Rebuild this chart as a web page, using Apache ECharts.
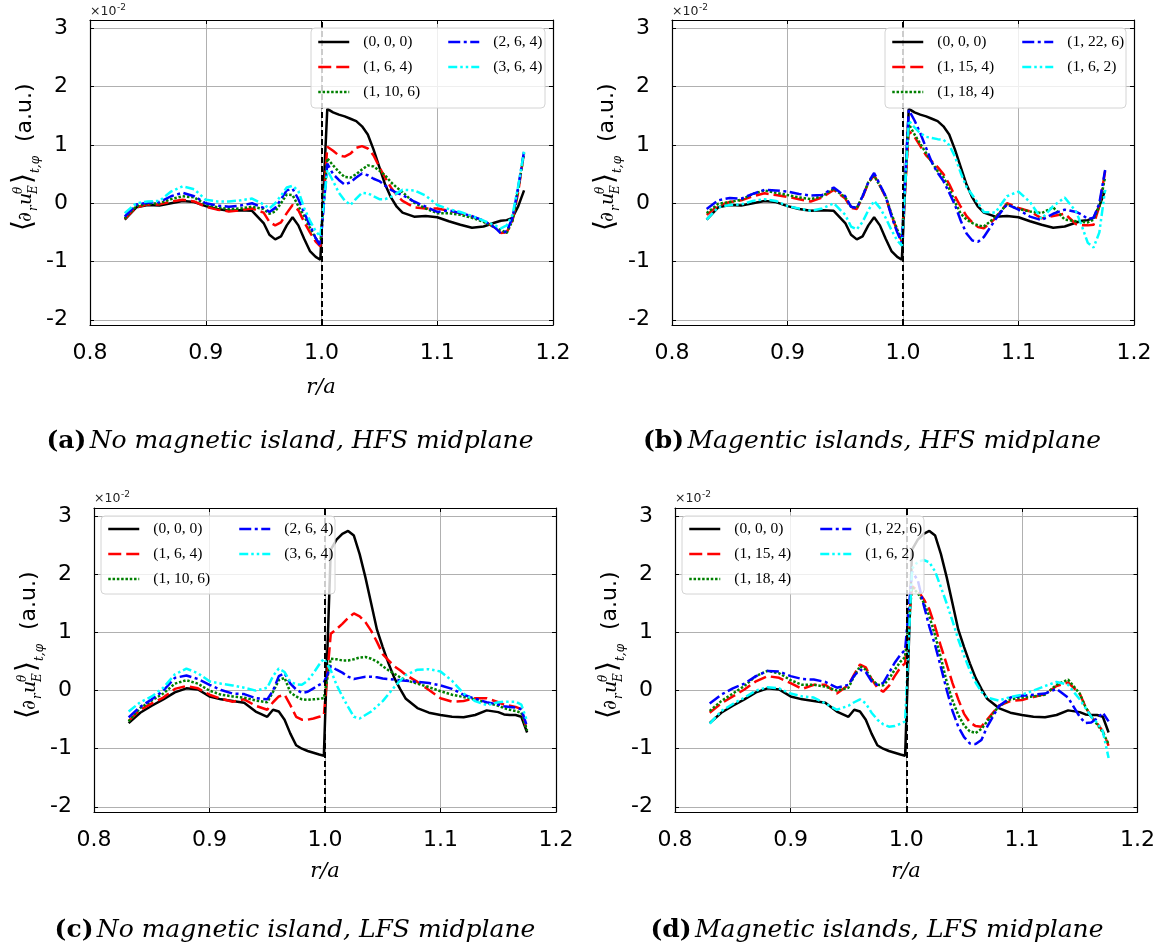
<!DOCTYPE html>
<html>
<head>
<meta charset="utf-8">
<script src="https://cdn.jsdelivr.net/npm/echarts@6/dist/echarts.min.js"></script>
<style>
  html, body { margin: 0; padding: 0; background: #ffffff; }
  #chart { width: 1158px; height: 951px; }
</style>
</head>
<body>
<div id="chart"></div>
<script>
// Radial positions r/a shared by every profile
const r = [0.83, 0.84, 0.85, 0.86, 0.87, 0.88, 0.89, 0.90, 0.91, 0.92, 0.93, 0.94, 0.95,
  0.955, 0.96, 0.965, 0.97, 0.975, 0.98, 0.985, 0.99, 0.995,
  0.999,
  1.005, 1.01, 1.015, 1.02, 1.025, 1.03, 1.035, 1.04, 1.045, 1.05, 1.055, 1.06, 1.065, 1.07,
  1.08, 1.09, 1.10, 1.11, 1.12, 1.13, 1.14, 1.15,
  1.155, 1.16, 1.165, 1.17, 1.175];

// Legend labels (m, n, w) of the island configurations
const labelsNoIsland = ['(0, 0, 0)', '(1, 6, 4)', '(1, 10, 6)', '(2, 6, 4)', '(3, 6, 4)'];
const labelsIslands = ['(0, 0, 0)', '(1, 15, 4)', '(1, 18, 4)', '(1, 22, 6)', '(1, 6, 2)'];

// HFS midplane profiles, units of 1e-2
const hfs_000 = [-0.28, -0.07, -0.03, -0.04, 0.00, 0.04, 0.02, -0.05, -0.10, -0.13, -0.12, -0.13, -0.34,
  -0.54, -0.62, -0.57, -0.38, -0.24, -0.38, -0.61, -0.82, -0.92,
  -0.97,
  1.62, 1.56, 1.52, 1.49, 1.45, 1.41, 1.32, 1.18, 0.92, 0.62, 0.32, 0.10, -0.06, -0.16,
  -0.23, -0.22, -0.24, -0.31, -0.37, -0.42, -0.40, -0.33,
  -0.30, -0.29, -0.25, -0.05, 0.22];
const hfsA_164 = [-0.27, -0.07, -0.02, -0.02, 0.03, 0.06, 0.03, -0.06, -0.11, -0.14, -0.12, -0.09, -0.16,
  -0.32, -0.38, -0.33, -0.17, -0.03, -0.12, -0.32, -0.50, -0.66,
  -0.74,
  0.97, 0.90, 0.82, 0.80, 0.85, 0.95, 0.98, 0.94, 0.82, 0.62, 0.44, 0.27, 0.14, 0.04,
  -0.07, -0.09, -0.09, -0.13, -0.17, -0.23, -0.30, -0.42,
  -0.51, -0.50, -0.30, 0.20, 0.88];
const hfsA_1106 = [-0.26, -0.05, -0.01, 0.00, 0.07, 0.12, 0.10, -0.02, -0.07, -0.10, -0.09, -0.06, -0.10,
  -0.18, -0.14, 0.00, 0.15, 0.14, -0.05, -0.22, -0.42, -0.60,
  -0.70,
  0.77, 0.65, 0.54, 0.45, 0.44, 0.50, 0.58, 0.65, 0.63, 0.56, 0.48, 0.36, 0.27, 0.19,
  0.01, -0.09, -0.17, -0.17, -0.20, -0.25, -0.32, -0.42,
  -0.46, -0.51, -0.30, 0.25, 0.86];
const hfsA_264 = [-0.23, -0.02, 0.01, 0.02, 0.12, 0.18, 0.12, 0.00, -0.04, -0.06, -0.04, 0.00, -0.08,
  -0.15, -0.08, 0.07, 0.22, 0.25, 0.07, -0.16, -0.38, -0.60,
  -0.73,
  0.68, 0.50, 0.40, 0.32, 0.36, 0.44, 0.51, 0.48, 0.42, 0.38, 0.30, 0.23, 0.18, 0.14,
  0.03, -0.06, -0.15, -0.12, -0.17, -0.22, -0.30, -0.42,
  -0.52, -0.48, -0.25, 0.28, 0.89];
const hfsA_364 = [-0.17, 0.00, 0.03, 0.04, 0.20, 0.29, 0.24, 0.06, 0.03, 0.03, 0.05, 0.08, -0.02,
  -0.09, 0.00, 0.13, 0.27, 0.30, 0.21, -0.08, -0.30, -0.48,
  -0.57,
  0.57, 0.38, 0.18, 0.05, -0.03, 0.08, 0.18, 0.17, 0.12, 0.07, 0.07, 0.11, 0.17, 0.23,
  0.22, 0.13, -0.03, -0.10, -0.15, -0.22, -0.30, -0.38,
  -0.43, -0.38, -0.20, 0.30, 0.89];
const hfsB_1154 = [-0.20, -0.04, 0.02, 0.05, 0.12, 0.17, 0.14, 0.11, 0.07, 0.03, 0.10, 0.23, 0.08,
  -0.08, -0.10, 0.10, 0.35, 0.48, 0.30, 0.10, -0.20, -0.48,
  -0.65,
  1.24, 1.14, 0.98, 0.82, 0.72, 0.62, 0.50, 0.33, 0.12, -0.06, -0.22, -0.33, -0.41, -0.43,
  -0.26, 0.00, -0.08, -0.14, -0.26, -0.22, -0.18, -0.36,
  -0.38, -0.38, -0.37, -0.05, 0.55];
const hfsB_1184 = [-0.17, -0.01, 0.02, 0.06, 0.16, 0.22, 0.18, 0.14, 0.10, 0.07, 0.12, 0.25, 0.10,
  -0.06, -0.08, 0.12, 0.36, 0.47, 0.30, 0.12, -0.18, -0.45,
  -0.62,
  1.36, 1.18, 1.02, 0.86, 0.70, 0.55, 0.45, 0.25, 0.02, -0.18, -0.28, -0.34, -0.38, -0.40,
  -0.24, -0.02, -0.10, -0.14, -0.17, -0.07, -0.28, -0.31,
  -0.32, -0.33, -0.28, -0.05, 0.45];
const hfsB_1226 = [-0.10, 0.05, 0.09, 0.08, 0.16, 0.23, 0.22, 0.20, 0.16, 0.13, 0.14, 0.27, 0.12,
  -0.06, -0.08, 0.12, 0.36, 0.52, 0.32, 0.12, -0.22, -0.50,
  -0.68,
  1.60, 1.42, 1.20, 0.95, 0.70, 0.52, 0.38, 0.18, -0.03, -0.30, -0.52, -0.64, -0.66, -0.58,
  -0.28, -0.02, -0.11, -0.23, -0.29, -0.18, -0.11, -0.15,
  -0.20, -0.27, -0.25, 0.00, 0.57];
const hfsB_162 = [-0.28, -0.07, -0.03, -0.02, 0.04, 0.07, 0.04, -0.05, -0.09, -0.13, -0.09, 0.00, -0.20,
  -0.40, -0.45, -0.32, -0.12, 0.04, -0.08, -0.25, -0.46, -0.64,
  -0.73,
  1.42, 1.30, 1.20, 1.14, 1.12, 1.10, 1.09, 1.00, 0.80, 0.52, 0.28, 0.14, 0.00, -0.15,
  -0.16, 0.12, 0.20, 0.02, -0.27, -0.05, 0.10, -0.15,
  -0.40, -0.68, -0.76, -0.50, 0.23];

// LFS midplane profiles, units of 1e-2
const lfs_000 = [-0.56, -0.38, -0.26, -0.15, -0.03, 0.04, 0.02, -0.10, -0.15, -0.18, -0.21, -0.36, -0.45,
  -0.33, -0.36, -0.50, -0.74, -0.94, -1.00, -1.04, -1.07, -1.10,
  -1.12,
  2.43, 2.60, 2.70, 2.75, 2.67, 2.35, 1.95, 1.50, 1.05, 0.75, 0.47, 0.22, 0.03, -0.14,
  -0.30, -0.38, -0.42, -0.45, -0.46, -0.42, -0.34, -0.37,
  -0.41, -0.42, -0.42, -0.45, -0.72];
const lfsC_164 = [-0.52, -0.33, -0.22, -0.12, 0.03, 0.08, 0.04, -0.07, -0.14, -0.19, -0.15, -0.26, -0.33,
  -0.20, -0.10, -0.07, -0.25, -0.45, -0.50, -0.50, -0.48, -0.45,
  -0.43,
  0.98, 1.06, 1.15, 1.25, 1.33, 1.28, 1.18, 1.03, 0.84, 0.63, 0.52, 0.42, 0.35, 0.27,
  0.15, 0.01, -0.13, -0.19, -0.18, -0.13, -0.13, -0.20,
  -0.24, -0.26, -0.28, -0.32, -0.70];
const lfsC_1106 = [-0.53, -0.30, -0.17, -0.05, 0.12, 0.18, 0.12, 0.00, -0.07, -0.10, -0.12, -0.17, -0.20,
  -0.02, 0.18, 0.22, -0.03, -0.10, -0.15, -0.16, -0.15, -0.14,
  -0.13,
  0.55, 0.54, 0.52, 0.52, 0.54, 0.57, 0.58, 0.55, 0.50, 0.42, 0.35, 0.29, 0.23, 0.18,
  0.12, 0.06, -0.01, -0.07, -0.11, -0.15, -0.21, -0.26,
  -0.30, -0.33, -0.35, -0.38, -0.69];
const lfsC_264 = [-0.46, -0.28, -0.15, 0.00, 0.22, 0.26, 0.20, 0.10, 0.01, -0.05, -0.06, -0.13, -0.15,
  0.00, 0.25, 0.30, 0.12, 0.02, -0.04, -0.02, 0.04, 0.10,
  0.14,
  0.42, 0.36, 0.31, 0.24, 0.20, 0.22, 0.24, 0.24, 0.23, 0.21, 0.20, 0.19, 0.18, 0.17,
  0.15, 0.13, 0.09, 0.03, -0.07, -0.14, -0.20, -0.24,
  -0.27, -0.28, -0.29, -0.32, -0.62];
const lfsC_364 = [-0.36, -0.20, -0.10, 0.05, 0.28, 0.38, 0.30, 0.16, 0.12, 0.09, 0.05, 0.00, 0.05,
  0.25, 0.38, 0.32, 0.15, 0.11, 0.10, 0.17, 0.30, 0.45,
  0.55,
  0.35, 0.10, -0.10, -0.28, -0.45, -0.48, -0.42, -0.36, -0.27, -0.18, -0.06, 0.06, 0.17, 0.27,
  0.36, 0.37, 0.33, 0.17, -0.05, -0.18, -0.25, -0.20,
  -0.19, -0.19, -0.19, -0.24, -0.53];
const lfsD_1154 = [-0.38, -0.22, -0.10, 0.02, 0.16, 0.25, 0.22, 0.13, 0.03, 0.10, 0.10, -0.05, 0.10,
  0.28, 0.45, 0.40, 0.20, 0.05, -0.02, 0.08, 0.25, 0.40,
  0.47,
  1.80, 1.72, 1.58, 1.40, 1.10, 0.76, 0.45, 0.13, -0.15, -0.40, -0.55, -0.61, -0.62, -0.50,
  -0.26, -0.18, -0.16, -0.11, -0.06, 0.08, 0.14, -0.05,
  -0.28, -0.45, -0.56, -0.70, -0.95];
const lfsD_1184 = [-0.35, -0.18, -0.05, 0.08, 0.25, 0.34, 0.30, 0.18, 0.10, 0.10, 0.07, 0.00, 0.05,
  0.25, 0.42, 0.36, 0.20, 0.10, 0.09, 0.20, 0.36, 0.50,
  0.58,
  1.78, 1.68, 1.52, 1.28, 0.95, 0.56, 0.15, -0.17, -0.42, -0.60, -0.70, -0.73, -0.66, -0.53,
  -0.27, -0.15, -0.12, -0.10, -0.07, 0.10, 0.19, -0.05,
  -0.28, -0.45, -0.58, -0.72, -0.92];
const lfsD_1226 = [-0.22, -0.07, 0.04, 0.12, 0.25, 0.34, 0.33, 0.25, 0.20, 0.19, 0.15, 0.05, 0.10,
  0.26, 0.36, 0.32, 0.16, 0.10, 0.13, 0.30, 0.48, 0.62,
  0.70,
  2.05, 1.90, 1.48, 1.10, 0.78, 0.40, 0.01, -0.35, -0.62, -0.80, -0.91, -0.92, -0.85, -0.62,
  -0.27, -0.12, -0.09, -0.07, -0.05, 0.03, -0.12, -0.45,
  -0.56, -0.55, -0.48, -0.38, -0.53];
const lfsD_162 = [-0.57, -0.35, -0.23, -0.12, 0.00, 0.06, 0.04, -0.05, -0.10, -0.12, -0.22, -0.33, -0.26,
  -0.20, -0.15, -0.22, -0.38, -0.50, -0.58, -0.62, -0.61, -0.57,
  -0.53,
  2.10, 2.22, 2.25, 2.21, 2.05, 1.78, 1.50, 1.20, 0.88, 0.60, 0.35, 0.14, -0.02, -0.12,
  -0.17, -0.11, -0.07, 0.00, 0.08, 0.15, 0.10, -0.15,
  -0.30, -0.45, -0.55, -0.70, -1.16];

// Line styles in plotting order: solid, dashed, dotted, dash-dot, dash-dot-dot
const lineStyles = [
  { color: '#000000', type: 'solid' },
  { color: '#ff0000', type: [13, 5] },
  { color: '#008000', type: [2.5, 1.8] },
  { color: '#0000ff', type: [12, 3.5, 3, 3.5] },
  { color: '#00ffff', type: [9, 3, 2.5, 3, 2.5, 3] }
];

const panels = [
  { grid: { left: 90, top: 20, width: 463, height: 305 },
    profiles: [hfs_000, hfsA_164, hfsA_1106, hfsA_264, hfsA_364], labels: labelsNoIsland,
    legend: { col1: 317, col2: 447, top: 34, box: [311, 28, 234, 80] },
    tag: '(a)', caption: 'No magnetic island, HFS midplane', capX: 290, capY: 441,
    ra: [321, 388], ylab: [32, 230], expo: [90, 12] },
  { grid: { left: 672, top: 20, width: 462, height: 305 },
    profiles: [hfs_000, hfsB_1154, hfsB_1184, hfsB_1226, hfsB_162], labels: labelsIslands,
    legend: { col1: 891, col2: 1021, top: 34, box: [885, 28, 241, 80] },
    tag: '(b)', caption: 'Magentic islands, HFS midplane', capX: 872, capY: 441,
    ra: null, ylab: [614, 230], expo: [672, 12] },
  { grid: { left: 94, top: 508, width: 462, height: 304 },
    profiles: [lfs_000, lfsC_164, lfsC_1106, lfsC_264, lfsC_364], labels: labelsNoIsland,
    legend: { col1: 107, col2: 238, top: 521, box: [101, 516, 234, 78] },
    tag: '(c)', caption: 'No magnetic island, LFS midplane', capX: 295, capY: 930,
    ra: [325, 872], ylab: [36, 718], expo: [94, 499] },
  { grid: { left: 675, top: 508, width: 463, height: 304 },
    profiles: [lfs_000, lfsD_1154, lfsD_1184, lfsD_1226, lfsD_162], labels: labelsIslands,
    legend: { col1: 688, col2: 819, top: 521, box: [682, 516, 242, 78] },
    tag: '(d)', caption: 'Magnetic islands, LFS midplane', capX: 877, capY: 930,
    ra: [906, 872], ylab: [617, 718], expo: [675, 499] }
];

const Y_MIN = -2.09, Y_MAX = 3.145;
const frame = { show: true, onZero: false, lineStyle: { color: '#000', width: 1.2 } };
const tickIn = { show: true, inside: true, length: 4, lineStyle: { color: '#000', width: 1 } };
const gridLine = { show: true, lineStyle: { color: '#b0b0b0', width: 1 } };
const tickFont = { fontFamily: 'DejaVu Sans', fontSize: 22, color: '#000' };

const grids = [], xAxes = [], yAxes = [], series = [], legends = [], graphics = [];

// Rotated y-axis title: <d_r u_E^theta>_{t,phi} (a.u.)
function yLabelGroup(bx, by) {
  const it = { fontFamily: 'DejaVu Serif', fontStyle: 'italic' };
  const t = (text, x, y, size, extra) => ({
    type: 'text', x: x, y: y,
    style: Object.assign({ text: text, fill: '#000', fontSize: size, fontFamily: 'DejaVu Serif',
      align: 'left', verticalAlign: 'middle' }, extra || {})
  });
  return {
    type: 'group', x: bx, y: by, rotation: Math.PI / 2, z: 20,
    children: [
      t('\u27E8', -1, -8, 28),
      t('\u2202', 8, -6, 19, it),
      t('r', 19, 2, 12, it),
      t('u', 25, -6, 19, it),
      t('\u03B8', 36, -13, 12, it),
      t('E', 36, 2, 12, it),
      t('\u27E9', 46, -8, 28),
      t('t,\u03C6', 57, 4, 12, it),
      t('(a.u.)', 88, -7, 22, { fontFamily: 'DejaVu Sans', fontStyle: 'normal' })
    ]
  };
}

panels.forEach((p, i) => {
  grids.push(Object.assign({ containLabel: false }, p.grid));
  xAxes.push({
    gridIndex: i, type: 'value', position: 'bottom', min: 0.8, max: 1.2, interval: 0.1,
    axisLine: frame, axisTick: tickIn, splitLine: gridLine,
    axisLabel: Object.assign({ margin: 17, formatter: v => v.toFixed(1) }, tickFont)
  });
  xAxes.push({
    gridIndex: i, type: 'value', position: 'top', min: 0.8, max: 1.2, interval: 0.1,
    axisLine: frame, axisTick: tickIn, splitLine: { show: false }, axisLabel: { show: false }
  });
  yAxes.push({
    gridIndex: i, type: 'value', position: 'left', min: Y_MIN, max: Y_MAX, splitNumber: 5,
    axisLine: frame, axisTick: tickIn, splitLine: gridLine,
    axisLabel: Object.assign({ margin: 22, showMinLabel: false, showMaxLabel: false,
      formatter: v => String(Math.round(v)) }, tickFont)
  });
  yAxes.push({
    gridIndex: i, type: 'value', position: 'right', min: Y_MIN, max: Y_MAX, splitNumber: 5,
    axisLine: frame, axisTick: tickIn, splitLine: { show: false }, axisLabel: { show: false }
  });

  p.profiles.forEach((vals, k) => {
    const s = {
      type: 'line', name: p.labels[k], xAxisIndex: 2 * i, yAxisIndex: 2 * i,
      data: r.map((x, j) => [x, vals[j]]),
      symbol: 'none', showSymbol: false, smooth: false, animation: false, silent: true,
      lineStyle: { color: lineStyles[k].color, width: 2.5, type: lineStyles[k].type },
      itemStyle: { color: lineStyles[k].color }
    };
    if (k === p.profiles.length - 1) {
      // separatrix at r/a = 1
      s.markLine = {
        silent: true, symbol: 'none', animation: false,
        label: { show: false },
        lineStyle: { color: '#000', width: 2, type: [6, 3] },
        data: [{ xAxis: 1.0 }]
      };
    }
    series.push(s);
  });

  const legendBase = {
    orient: 'vertical', top: p.legend.top, padding: 0, itemGap: 9,
    itemWidth: 31, itemHeight: 14, selectedMode: false, z: 12,
    itemStyle: { opacity: 0, borderWidth: 0 },
    lineStyle: { width: 2.5 },
    textStyle: { fontFamily: 'Liberation Serif', fontSize: 15.5, color: '#000', padding: [0, 0, 0, 9] }
  };
  legends.push(Object.assign({}, legendBase, { left: p.legend.col1, data: p.labels.slice(0, 3) }));
  legends.push(Object.assign({}, legendBase, { left: p.legend.col2, data: p.labels.slice(3) }));

  const b = p.legend.box;
  graphics.push({
    type: 'rect', z: 11, silent: true,
    shape: { x: b[0], y: b[1], width: b[2], height: b[3], r: 4 },
    style: { fill: 'rgba(255,255,255,0.8)', stroke: '#d4d4d4', lineWidth: 1 }
  });

  // axis multiplier
  graphics.push({ type: 'text', x: p.expo[0], y: p.expo[1], z: 20,
    style: { text: '\u00D710', fontFamily: 'DejaVu Sans', fontSize: 12.5, fill: '#222',
      align: 'left', verticalAlign: 'middle' } });
  graphics.push({ type: 'text', x: p.expo[0] + 27, y: p.expo[1] - 4, z: 20,
    style: { text: '-2', fontFamily: 'DejaVu Sans', fontSize: 9, fill: '#222',
      align: 'left', verticalAlign: 'middle' } });

  // sub-figure caption
  graphics.push({ type: 'text', x: p.capX, y: p.capY, z: 20,
    style: {
      text: '{b|' + p.tag + '} {i|' + p.caption + '}',
      align: 'center', verticalAlign: 'middle', fill: '#000',
      rich: {
        b: { fontFamily: 'DejaVu Serif', fontWeight: 'bold', fontSize: 25, fill: '#000' },
        i: { fontFamily: 'DejaVu Serif', fontStyle: 'italic', fontSize: 25, fill: '#000' }
      }
    } });

  if (p.ra) {
    graphics.push({ type: 'text', x: p.ra[0], y: p.ra[1], z: 20,
      style: { text: 'r/a', fontFamily: 'DejaVu Serif', fontStyle: 'italic', fontSize: 21,
        fill: '#000', align: 'center', verticalAlign: 'middle' } });
  }

  graphics.push(yLabelGroup(p.ylab[0], p.ylab[1]));
});

const chart = echarts.init(document.getElementById('chart'), null, { renderer: 'canvas' });
chart.setOption({
  animation: false,
  backgroundColor: '#ffffff',
  grid: grids,
  xAxis: xAxes,
  yAxis: yAxes,
  legend: legends,
  series: series,
  graphic: { elements: graphics }
});
</script>
</body>
</html>
